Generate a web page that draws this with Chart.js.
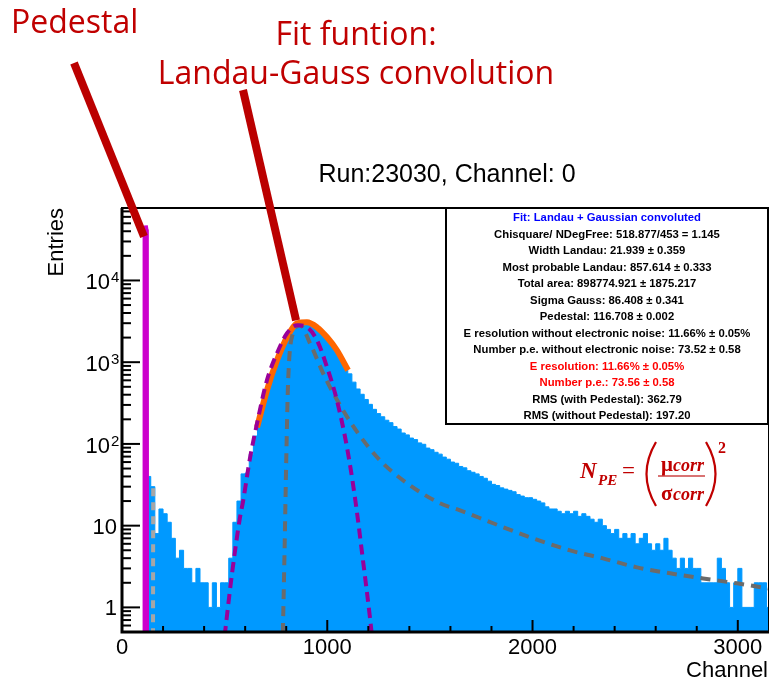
<!DOCTYPE html>
<html><head><meta charset="utf-8">
<script src="https://cdn.jsdelivr.net/npm/chart.js@4.4.1/dist/chart.umd.min.js"></script>
<style>html,body{margin:0;padding:0;background:#fff;}#wrap{width:769px;height:685px;}</style>
</head><body><div id="wrap"><canvas id="c" width="769" height="685"></canvas></div>
<script>
// ---- histogram (Channel bins of 20, starting at 0) ----
const binStart = 0;
const binWidth = 20;
const counts = [
  0,0,0,0,0,0,40,30,8,16,14,11,7,4,5,3,3,2,3,2,2,1,2,1,2,2,4,11,20,43,
  44,75,125,220,320,480,650,980,1300,1700,2120,2500,2900,3050,3100,3050,2900,2650,2400,2120,1880,1600,1370,1120,900,720,570,470,405,350,305,
  265,235,215,195,182,163,152,136,129,118,113,103,99,89,85,79,75,69,65,60,58,53,51,47,45,43,40,38,35,32,31,29,28,27,26,24,23,22,22,21,20,19,17,16,16,15,14,15,14,15,13,14,13,12,11,12,10,9,8,9,7,8,7,8,6,7,8,6,5,6,5,7,5,4,3,4,3,4,3,3,2,2,2,2,4,3,2,1,2,3,1,1,1,2,2,2,1
];
// ---- fitted curves (Channel, Entries) ----
const pedestalX = [109,110,113,116,119,121,122];
const pedestalY = [0.3,36000,42000,47000,42000,36000,0.3];
const pedTailX = [151,152];
const pedTailY = [0.3,29];
const landauX = [782,792,800,809,833,867,916,989,1077,1150,1257,1389,1549,1647,1808,1988,2183,2343,2509,2670,2831,2996,3152];
const landauY = [0.3,5,60,552,2258,2830,1703,653,258,135,63,33,18.8,15.4,10.7,7.2,4.98,3.98,3.09,2.61,2.26,1.97,1.70];
const gaussX = [500,536,575,590,624,658,706,755,804,853,901,950,999,1047,1096,1135,1174,1208,1225];
const gaussY = [0.45,2.6,12.7,20,68,179,600,1285,2258,2830,2673,1854,866,342,91,22,3.76,0.75,0.3];
const fitX = [658,706,755,804,853,901,950,999,1047,1101];
const fitY = [160,453,1055,2018,2994,3080,2673,2018,1400,796];
// ---- axes ----
const xMin = 0, xMax = 3152, yMin = 0.5, yMax = 77000;
const xTickValues = [0,1000,2000,3000];
const xTickLabels = ['0','1000','2000','3000'];
const yTickValues = [1,10,100,1000,10000];
const yTickBase = ['1','10','10','10','10'];
const yTickExp = ['','','2','3','4'];
// ---- annotations ----
const pedestalTip = {x:107, y:34500};
const fitTip = {x:848, y:3240};
const statsLines = [
  'Fit: Landau + Gaussian convoluted',
  'Chisquare/ NDegFree: 518.877/453 = 1.145',
  'Width Landau: 21.939 \u00b1 0.359',
  'Most probable Landau: 857.614 \u00b1 0.333',
  'Total area: 898774.921 \u00b1 1875.217',
  'Sigma Gauss: 86.408 \u00b1 0.341',
  'Pedestal: 116.708 \u00b1 0.002',
  'E resolution without electronic noise: 11.66% \u00b1 0.05%',
  'Number p.e. without electronic noise: 73.52 \u00b1 0.58',
  'E resolution: 11.66% \u00b1 0.05%',
  'Number p.e.: 73.56 \u00b1 0.58',
  'RMS (with Pedestal): 362.79',
  'RMS (without Pedestal): 197.20'
];
const statsColors = ['#0000ff','#000','#000','#000','#000','#000','#000','#000','#000','#ff0000','#ff0000','#000','#000'];

const histPts = counts.map((c,i)=>({x: binStart + i*binWidth, y: c>0 ? c : 0.1}));
histPts.push({x: binStart + counts.length*binWidth, y: counts[counts.length-1]});
const pts = (xs,ys)=>xs.map((v,i)=>({x:v,y:ys[i]}));

const overlay = {
  id:'overlay',
  beforeDraw(chart){const c=chart.ctx;c.save();c.fillStyle='#fff';c.fillRect(0,0,chart.width,chart.height);c.restore();},
  afterDatasetsDraw(chart){
    const ctx=chart.ctx, a=chart.chartArea, xs=chart.scales.x, ys=chart.scales.y;
    ctx.save();
    // frame
    ctx.strokeStyle='#000'; ctx.lineWidth=2;
    ctx.strokeRect(a.left,a.top,a.right-a.left,a.bottom-a.top);
    ctx.lineWidth=3; ctx.beginPath(); ctx.moveTo(a.left,a.top); ctx.lineTo(a.left,a.bottom); ctx.lineTo(a.right,a.bottom); ctx.stroke();
    // x ticks
    ctx.lineWidth=2;
    for(let v=200; v<=xMax; v+=200){const px=xs.getPixelForValue(v);const mj=v%1000===0;ctx.beginPath();ctx.moveTo(px,a.bottom);ctx.lineTo(px,a.bottom-(mj?12:6));ctx.stroke();}
    // y ticks
    for(let d=-1; d<=5; d++) for(let k=1;k<=9;k++){const v=k*Math.pow(10,d); if(v<=yMin*1.0001||v>=yMax) continue; const py=ys.getPixelForValue(v); ctx.beginPath(); ctx.moveTo(a.left,py); ctx.lineTo(a.left+(k===1?18:9),py); ctx.stroke();}
    // tick labels
    ctx.fillStyle='#000';
    ctx.textBaseline='alphabetic';
    xTickValues.forEach((v,i)=>{ctx.font='22px "Liberation Sans"';ctx.textAlign='center';ctx.fillText(xTickLabels[i], xs.getPixelForValue(v), 654);});
    yTickValues.forEach((v,i)=>{const py=ys.getPixelForValue(v);
      if(yTickExp[i]){ctx.font='22px "Liberation Sans"';ctx.textAlign='right';ctx.fillText(yTickBase[i],110,py+9);ctx.font='15px "Liberation Sans"';ctx.textAlign='left';ctx.fillText(yTickExp[i],111,py+2);}
      else {ctx.font='22px "Liberation Sans"';ctx.textAlign='right';ctx.fillText(yTickBase[i],117,py+8);}
    });
    // axis titles
    ctx.font='22px "Liberation Sans"';
    ctx.textAlign='right'; ctx.fillText('Channel', 768, 677);
    ctx.save(); ctx.translate(63,208); ctx.rotate(-Math.PI/2); ctx.textAlign='right'; ctx.fillText('Entries',0,0); ctx.restore();
    // title
    ctx.font='25px "Liberation Sans"'; ctx.textAlign='center'; ctx.fillText('Run:23030, Channel: 0', 447, 182);
    // stats box
    ctx.fillStyle='#fff'; ctx.fillRect(446,208,322,216);
    ctx.strokeStyle='#000'; ctx.lineWidth=2; ctx.strokeRect(446,208,322,216);
    ctx.font='bold 11.3px "Liberation Sans"'; ctx.textAlign='center'; ctx.textBaseline='middle';
    statsLines.forEach((t,i)=>{ctx.fillStyle=statsColors[i]; ctx.fillText(t, 607, 218+i*16.5);});
    // annotation arrows
    ctx.strokeStyle='#bb0000'; ctx.lineWidth=8; ctx.lineCap='butt';
    ctx.beginPath(); ctx.moveTo(74,63); ctx.lineTo(xs.getPixelForValue(pedestalTip.x), ys.getPixelForValue(pedestalTip.y)); ctx.stroke();
    ctx.beginPath(); ctx.moveTo(243,90); ctx.lineTo(xs.getPixelForValue(fitTip.x), ys.getPixelForValue(fitTip.y)); ctx.stroke();
    // annotation texts
    ctx.fillStyle='#c00000'; ctx.textBaseline='alphabetic';
    ctx.font='32px "Open Sans"'; ctx.textAlign='left'; ctx.fillText('Pedestal', 11, 33);
    ctx.textAlign='center';
    ctx.fillText('Fit funtion:', 356, 45);
    ctx.fillText('Landau-Gauss convolution', 356, 84);
    // formula
    ctx.textAlign='left';
    ctx.font='bold italic 23px "Liberation Serif"'; ctx.fillText('N', 580, 478);
    ctx.font='bold italic 15px "Liberation Serif"'; ctx.fillText('PE', 598, 485);
    ctx.font='23px "Liberation Serif"'; ctx.fillText('=', 622, 478);
    ctx.strokeStyle='#c00000'; ctx.lineWidth=2.2;
    ctx.beginPath(); ctx.moveTo(656,442); ctx.quadraticCurveTo(637,474,656,506); ctx.stroke();
    ctx.beginPath(); ctx.moveTo(706,442); ctx.quadraticCurveTo(725,474,706,506); ctx.stroke();
    ctx.font='bold 21px "Liberation Serif"'; ctx.fillText('\u03bc', 661, 471);
    ctx.font='bold italic 18px "Liberation Serif"'; ctx.fillText('corr', 673, 471);
    ctx.font='bold 21px "Liberation Serif"'; ctx.fillText('\u03c3', 661, 500);
    ctx.font='bold italic 18px "Liberation Serif"'; ctx.fillText('corr', 673, 500);
    ctx.strokeStyle='#cc4444'; ctx.lineWidth=1.5; ctx.beginPath(); ctx.moveTo(658,476); ctx.lineTo(705,476); ctx.stroke();
    ctx.font='bold 16px "Liberation Serif"'; ctx.fillText('2', 718, 453);
    ctx.restore();
  }
};

new Chart(document.getElementById('c'), {
  type:'line',
  data:{datasets:[
    {label:'hist', data:histPts, stepped:true, fill:'start', backgroundColor:'#0099ff', borderColor:'#0099ff', borderWidth:1, pointRadius:0, order:10},
    {label:'pedestal', data:pts(pedestalX,pedestalY), fill:'start', backgroundColor:'#cc00cc', borderColor:'#cc00cc', borderWidth:4, pointRadius:0, order:6},
    {label:'fit', data:pts(fitX,fitY), borderColor:'#ff6600', borderWidth:6, pointRadius:0, cubicInterpolationMode:'monotone', fill:false, order:5},
    {label:'pedTail', data:pts(pedTailX,pedTailY), borderColor:'#a6a6a6', borderWidth:4, borderDash:[8,6], pointRadius:0, fill:false, order:4},
    {label:'landau', data:pts(landauX,landauY), borderColor:'#6b6b6b', borderWidth:4, borderDash:[10,7], pointRadius:0, cubicInterpolationMode:'monotone', fill:false, order:3},
    {label:'gauss', data:pts(gaussX,gaussY), borderColor:'#990099', borderWidth:4, borderDash:[10,6], pointRadius:0, cubicInterpolationMode:'monotone', fill:false, order:2}
  ]},
  options:{
    responsive:false, devicePixelRatio:1, animation:false,
    layout:{padding:{top:208,right:0,bottom:0,left:0}},
    plugins:{legend:{display:false}, tooltip:{enabled:false}, title:{display:false}},
    scales:{
      x:{type:'linear', min:xMin, max:xMax, ticks:{display:false}, grid:{display:false}, border:{display:false}, afterFit(s){s.height=53;}},
      y:{type:'logarithmic', min:yMin, max:yMax, ticks:{display:false}, grid:{display:false}, border:{display:false}, afterFit(s){s.width=122;}}
    }
  },
  plugins:[overlay]
});
</script></body></html>
